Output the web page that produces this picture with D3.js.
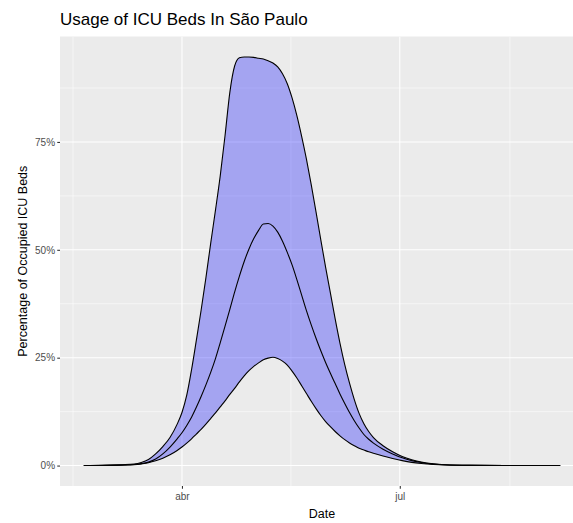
<!DOCTYPE html>
<html><head><meta charset="utf-8">
<script src="https://cdn.jsdelivr.net/npm/d3@7"></script>
<style>
body{margin:0;background:#fff}
text{font-family:"Liberation Sans",Arial,Helvetica,sans-serif}
</style>
</head><body>
<svg id="chart" width="573" height="523"></svg>
<script>
// ---- data ----
const dates = ["2020-02-20","2020-02-26","2020-03-02","2020-03-07","2020-03-12","2020-03-15",
  "2020-03-18","2020-03-21","2020-03-24","2020-03-27","2020-03-30",
  "2020-04-01","2020-04-03","2020-04-05","2020-04-07","2020-04-09","2020-04-11","2020-04-13",
  "2020-04-15","2020-04-17","2020-04-19","2020-04-21",
  "2020-04-23","2020-04-25","2020-04-27","2020-04-29","2020-05-01","2020-05-03","2020-05-05",
  "2020-05-07","2020-05-09","2020-05-11",
  "2020-05-13","2020-05-15","2020-05-17","2020-05-19","2020-05-21","2020-05-23","2020-05-25",
  "2020-05-27","2020-05-29","2020-05-31",
  "2020-06-02","2020-06-04","2020-06-06","2020-06-08","2020-06-10","2020-06-12","2020-06-14",
  "2020-06-16","2020-06-18","2020-06-20",
  "2020-06-24","2020-06-28","2020-07-02","2020-07-06","2020-07-10","2020-07-15","2020-07-20",
  "2020-07-30","2020-08-14","2020-09-06"];
const upperPct = [0.02,0.05,0.1,0.2,0.35,0.7,1.4,2.7,4.4,6.5,9.6,
  12.3,16.3,22.2,29.0,36.0,43.5,51.5,59.2,67.2,76.5,86.5,
  92.6,94.5,94.7,94.7,94.6,94.4,94.2,93.8,93.3,92.4,
  90.8,88.5,85.2,81.1,76.3,71.0,65.1,58.8,52.3,46.0,
  40.0,34.0,28.4,23.4,19.1,15.3,12.1,9.7,7.9,6.5,
  4.6,3.2,2.1,1.35,0.8,0.4,0.2,0.06,0.01,0];
const middlePct = [0.01,0.03,0.06,0.12,0.25,0.45,0.8,1.5,2.7,4.3,6.2,
  7.6,9.3,11.2,13.5,16.0,18.7,21.6,24.8,28.5,32.3,36.2,
  40.2,43.9,47.3,50.2,52.6,54.5,56.0,56.1,55.5,54.1,
  52.0,49.4,46.5,43.1,39.5,35.9,32.6,29.5,26.6,23.9,
  21.4,19.0,16.6,14.4,12.3,10.4,8.7,7.2,6.1,5.2,
  3.8,2.7,1.8,1.15,0.7,0.38,0.18,0.05,0.01,0];
const lowerPct = [0.01,0.02,0.05,0.1,0.2,0.38,0.65,1.1,1.7,2.5,3.5,
  4.3,5.2,6.2,7.3,8.4,9.6,10.9,12.2,13.6,15.0,16.5,
  17.9,19.4,20.8,22.0,23.0,23.8,24.5,24.9,25.1,24.8,
  24.2,23.3,21.9,20.3,18.5,16.7,14.9,13.2,11.6,10.2,
  9.0,7.9,6.9,6.0,5.25,4.6,4.0,3.6,3.2,2.85,
  2.2,1.65,1.15,0.75,0.48,0.25,0.12,0.04,0.01,0];
const yTicks = [0,25,50,75];
const yMinorTicks = [12.5,37.5,62.5,87.5];
const xBreakDates = ["2020-01-01","2020-04-01","2020-07-01","2020-10-01"];
const xBreakLabels = ["jan","abr","jul","out"];
const titleText = "Usage of ICU Beds In São Paulo";
const xTitle = "Date";
const yTitle = "Percentage of Occupied ICU Beds";

// ---- layout ----
const P = {left: 60, right: 584, top: 36.5, bottom: 486};
const parse = d3.timeParse("%Y-%m-%d");
const xs = dates.map(parse);
const rows = xs.map((d,i)=>({date:d, lo:lowerPct[i], mid:middlePct[i], hi:upperPct[i]}));

const span = xs[xs.length-1] - xs[0];
const x = d3.scaleTime()
  .domain([new Date(+xs[0] - 0.05*span), new Date(+xs[xs.length-1] + 0.05*span)])
  .range([P.left, P.right]);
const maxY = d3.max(upperPct);
const y = d3.scaleLinear().domain([-0.05*maxY, 1.05*maxY]).range([P.bottom, P.top]);

const svg = d3.select("#chart");
svg.append("defs").append("clipPath").attr("id","pclip")
  .append("rect").attr("x",P.left).attr("y",P.top)
  .attr("width",P.right-P.left).attr("height",P.bottom-P.top);

svg.append("rect").attr("x",P.left).attr("y",P.top)
  .attr("width",P.right-P.left).attr("height",P.bottom-P.top).attr("fill","#EBEBEB");

const grid = svg.append("g").attr("clip-path","url(#pclip)");
const breaks = xBreakDates.map(parse);
const xMinor = d3.pairs(breaks).map(([a,b])=>new Date((+a + +b)/2));
grid.selectAll(".ymin").data(yMinorTicks).join("line")
  .attr("x1",P.left).attr("x2",P.right).attr("y1",d=>y(d)).attr("y2",d=>y(d))
  .attr("stroke","#fff").attr("stroke-width",0.53);
grid.selectAll(".xmin").data(xMinor).join("line")
  .attr("y1",P.top).attr("y2",P.bottom).attr("x1",d=>x(d)).attr("x2",d=>x(d))
  .attr("stroke","#fff").attr("stroke-width",0.53);
grid.selectAll(".ymaj").data(yTicks).join("line")
  .attr("x1",P.left).attr("x2",P.right).attr("y1",d=>y(d)).attr("y2",d=>y(d))
  .attr("stroke","#fff").attr("stroke-width",1.07);
grid.selectAll(".xmaj").data(breaks).join("line")
  .attr("y1",P.top).attr("y2",P.bottom).attr("x1",d=>x(d)).attr("x2",d=>x(d))
  .attr("stroke","#fff").attr("stroke-width",1.07);

// ---- marks ----
const marks = svg.append("g").attr("clip-path","url(#pclip)");
const curve = d3.curveMonotoneX;
marks.append("path").datum(rows)
  .attr("d", d3.area().curve(curve).x(d=>x(d.date)).y0(d=>y(d.lo)).y1(d=>y(d.hi)))
  .attr("fill","rgb(0,0,255)").attr("fill-opacity",0.3);
const lineOf = key => d3.line().curve(curve).x(d=>x(d.date)).y(d=>y(d[key]));
["hi","lo","mid"].forEach(k=>{
  marks.append("path").datum(rows).attr("d", lineOf(k))
    .attr("fill","none").attr("stroke","#000").attr("stroke-width",1.1)
    .attr("stroke-linejoin","round");
});

// ---- axes ----
const yAxis = svg.append("g").attr("transform",`translate(${P.left},0)`)
  .call(d3.axisLeft(y).tickValues(yTicks).tickSize(2.75).tickPadding(2.2).tickFormat(d=>d+"%"));
const inRange = breaks.map((d,i)=>({d, l:xBreakLabels[i]})).filter(o=>x(o.d)>=P.left && x(o.d)<=P.right);
const xAxis = svg.append("g").attr("transform",`translate(0,${P.bottom})`)
  .call(d3.axisBottom(x).tickValues(inRange.map(o=>o.d)).tickSize(2.75).tickPadding(4)
    .tickFormat((d,i)=>inRange[i].l));
[xAxis,yAxis].forEach(g=>{
  g.select(".domain").remove();
  g.selectAll(".tick line").attr("stroke","#333333").attr("stroke-width",1.07);
  g.selectAll(".tick text").attr("fill","#4D4D4D").attr("font-size","10px")
    .attr("font-family","Liberation Sans, Arial, sans-serif");
});

// ---- titles ----
svg.append("text").attr("x",P.left).attr("y",25).attr("font-size","17px")
  .attr("fill","#000").text(titleText);
svg.append("text").attr("x",(P.left+P.right)/2).attr("y",518).attr("text-anchor","middle")
  .attr("font-size","12.5px").attr("fill","#000").text(xTitle);
svg.append("text").attr("transform",`translate(27,${(P.top+P.bottom)/2}) rotate(-90)`)
  .attr("text-anchor","middle").attr("font-size","12.5px").attr("fill","#000").text(yTitle);
</script>
</body></html>
